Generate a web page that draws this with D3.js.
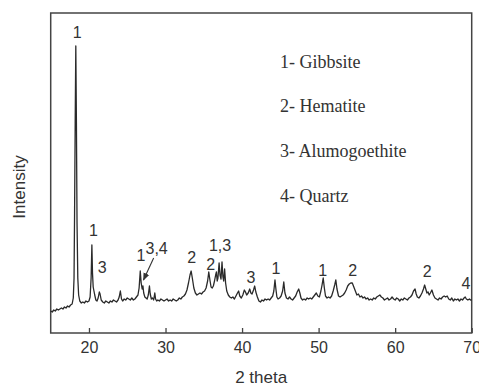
<!DOCTYPE html>
<html>
<head>
<meta charset="utf-8">
<script src="https://cdn.jsdelivr.net/npm/d3@7"></script>
<style>
  body { margin: 0; background: #fff; }
  svg { display: block; }
</style>
</head>
<body>
<div id="chart"></div>
<script>
// XRD pattern: [2 theta, intensity (a.u.)]
var pattern = [
  [15.0,22],[15.2,21],[15.4,23],[15.6,22],[15.8,24],[16.0,23],[16.2,24],[16.4,25],[16.6,24],[16.8,26],
  [17.0,25],[17.2,27],[17.4,26],[17.6,28],[17.8,29],[17.95,35],[18.05,55],[18.12,120],[18.2,210],[18.28,287],
  [18.36,210],[18.44,110],[18.54,55],[18.65,38],[18.8,32],[19.0,30],[19.2,31],[19.4,30],[19.6,32],[19.8,31],
  [20.0,32],[20.15,36],[20.28,55],[20.38,88],[20.46,60],[20.55,46],[20.65,42],[20.75,38],[20.9,33],[21.05,32],
  [21.2,35],[21.35,41],[21.45,39],[21.6,33],[21.8,31],[22.0,30],[22.2,32],[22.4,31],[22.6,30],[22.8,32],
  [23.0,31],[23.2,33],[23.4,32],[23.6,31],[23.8,33],[23.95,36],[24.1,42],[24.25,34],[24.4,32],[24.6,34],
  [24.8,33],[25.0,35],[25.2,34],[25.4,33],[25.6,35],[25.8,33],[26.0,34],[26.2,36],[26.4,38],[26.55,45],
  [26.7,62],[26.82,50],[26.95,44],[27.05,47],[27.15,40],[27.3,36],[27.45,35],[27.6,34],[27.75,38],[27.9,47],
  [28.0,39],[28.15,34],[28.3,35],[28.45,33],[28.6,40],[28.7,34],[28.85,32],[29.0,33],[29.2,32],[29.4,34],
  [29.6,33],[29.8,32],[30.0,33],[30.2,34],[30.4,32],[30.6,33],[30.8,32],[31.0,34],[31.2,33],[31.4,32],
  [31.6,33],[31.8,35],[32.0,34],[32.2,36],[32.4,37],[32.6,39],[32.8,43],[33.0,50],[33.2,58],[33.35,62],
  [33.5,55],[33.7,45],[33.9,40],[34.1,38],[34.3,39],[34.5,40],[34.7,39],[34.9,41],[35.1,42],[35.3,45],
  [35.5,52],[35.65,61],[35.8,53],[35.95,46],[36.1,45],[36.25,47],[36.4,52],[36.55,58],[36.65,61],[36.75,52],
  [36.85,55],[37.0,70],[37.12,58],[37.25,54],[37.38,71],[37.5,56],[37.6,52],[37.72,64],[37.85,50],[38.0,42],
  [38.2,38],[38.4,36],[38.6,35],[38.8,36],[39.0,34],[39.2,37],[39.4,40],[39.55,42],[39.7,37],[39.9,35],
  [40.1,38],[40.3,43],[40.45,41],[40.6,38],[40.8,40],[41.0,44],[41.15,40],[41.3,39],[41.5,43],[41.65,47],
  [41.8,41],[42.0,36],[42.2,32],[42.4,31],[42.6,33],[42.8,32],[43.0,34],[43.2,33],[43.4,34],[43.6,33],
  [43.8,35],[44.0,37],[44.15,42],[44.3,53],[44.42,44],[44.55,36],[44.7,34],[44.9,35],[45.1,37],[45.3,42],
  [45.45,51],[45.6,40],[45.8,35],[46.0,34],[46.2,36],[46.4,34],[46.6,33],[46.8,35],[47.0,37],[47.2,41],
  [47.4,44],[47.55,40],[47.7,35],[47.9,33],[48.1,34],[48.3,33],[48.5,35],[48.7,34],[48.9,35],[49.1,34],
  [49.3,36],[49.5,38],[49.7,40],[49.9,37],[50.1,36],[50.3,42],[50.45,48],[50.6,55],[50.75,45],[50.9,37],
  [51.1,35],[51.3,36],[51.5,35],[51.7,37],[51.9,42],[52.1,48],[52.25,53],[52.4,44],[52.6,37],[52.8,36],
  [53.0,37],[53.2,38],[53.4,40],[53.6,43],[53.8,47],[54.0,49],[54.2,50],[54.4,50],[54.6,46],[54.8,42],
  [55.0,38],[55.2,39],[55.4,36],[55.6,37],[55.8,35],[56.0,36],[56.2,34],[56.4,35],[56.6,33],[56.8,34],
  [57.0,33],[57.2,35],[57.4,34],[57.6,36],[57.8,37],[58.0,38],[58.2,36],[58.4,35],[58.6,33],[58.8,34],
  [59.0,35],[59.2,33],[59.4,34],[59.6,36],[59.8,34],[60.0,33],[60.2,35],[60.4,34],[60.6,32],[60.8,34],
  [61.0,33],[61.2,35],[61.4,34],[61.6,33],[61.8,35],[62.0,36],[62.2,38],[62.4,42],[62.6,44],[62.75,39],
  [62.9,36],[63.1,35],[63.3,37],[63.5,40],[63.7,44],[63.85,48],[64.0,44],[64.15,40],[64.3,41],[64.45,38],
  [64.6,40],[64.8,43],[65.0,38],[65.2,35],[65.4,34],[65.6,33],[65.8,35],[66.0,34],[66.2,36],[66.4,37],
  [66.6,36],[66.8,37],[67.0,34],[67.2,33],[67.4,35],[67.6,32],[67.8,34],[68.0,33],[68.2,34],[68.4,32],
  [68.6,34],[68.8,33],[69.0,35],[69.15,36],[69.3,34],[69.5,33],[69.7,34],[69.85,33],[70.0,33]
];

// peak annotations: [2 theta, intensity of label baseline, text]
var peakLabels = [
  [18.45,295,"1"],[20.57,97,"1"],[21.74,60,"3"],[26.8,72,"1"],[28.84,79,"3,4"],
  [33.42,70,"2"],[35.9,63,"2"],[37.12,82,"1,3"],[41.17,50,"3"],[44.44,59,"1"],
  [50.54,57,"1"],[54.46,57,"2"],[64.2,56,"2"],[69.26,44,"4"]
];

// arrow for the "3,4" label: [from, to] in [2 theta, intensity]
var arrow34 = [[28.45,75],[27.12,53]];

var phases = ["1- Gibbsite", "2- Hematite", "3- Alumogoethite", "4- Quartz"];
var xTicks = [20, 30, 40, 50, 60, 70];

var width = 479, height = 387;
var margin = {top: 13, right: 7.3, bottom: 54, left: 50.7};
var ink = "#333";

var svg = d3.select("#chart").append("svg")
  .attr("width", width)
  .attr("height", height);

var x = d3.scaleLinear()
  .domain([15, 70])
  .range([margin.left, width - margin.right]);

var y = d3.scaleLinear()
  .domain([0, 320])
  .range([height - margin.bottom, margin.top]);

// frame
svg.append("rect")
  .attr("x", margin.left)
  .attr("y", margin.top)
  .attr("width", width - margin.right - margin.left)
  .attr("height", height - margin.bottom - margin.top)
  .attr("fill", "none")
  .attr("stroke", "#444")
  .attr("stroke-width", 1.5);

// x axis, ticks pointing inward
var xAxis = d3.axisBottom(x)
  .tickValues(xTicks)
  .tickSize(-5)
  .tickPadding(9)
  .tickFormat(d3.format("d"));

var gx = svg.append("g")
  .attr("transform", "translate(0," + (height - margin.bottom) + ")")
  .call(xAxis);
gx.select(".domain").remove();
gx.selectAll(".tick line").attr("stroke", "#444").attr("stroke-width", 1.3);
gx.selectAll(".tick text")
  .attr("fill", ink)
  .style("font-family", "'Liberation Sans', Arial, sans-serif")
  .style("font-size", "16px");

// pattern line
var line = d3.line()
  .x(function(d) { return x(d[0]); })
  .y(function(d) { return y(d[1]); });

svg.append("path")
  .datum(pattern)
  .attr("d", line)
  .attr("fill", "none")
  .attr("stroke", "#2a2a2a")
  .attr("stroke-width", 1.3)
  .attr("stroke-linejoin", "round");

// peak labels
svg.selectAll(".peak")
  .data(peakLabels)
  .enter()
  .append("text")
  .attr("class", "peak")
  .attr("x", function(d) { return x(d[0]); })
  .attr("y", function(d) { return y(d[1]); })
  .attr("text-anchor", "middle")
  .attr("fill", ink)
  .style("font-family", "'Liberation Sans', Arial, sans-serif")
  .style("font-size", "16px")
  .text(function(d) { return d[2]; });

// arrow
svg.append("defs").append("marker")
  .attr("id", "head")
  .attr("viewBox", "0 0 10 10")
  .attr("refX", 9)
  .attr("refY", 5)
  .attr("markerWidth", 7)
  .attr("markerHeight", 7)
  .attr("orient", "auto")
  .append("path")
  .attr("d", "M0,1 L10,5 L0,9 z")
  .attr("fill", ink);

svg.append("line")
  .attr("x1", x(arrow34[0][0]))
  .attr("y1", y(arrow34[0][1]))
  .attr("x2", x(arrow34[1][0]))
  .attr("y2", y(arrow34[1][1]))
  .attr("stroke", ink)
  .attr("stroke-width", 1.1)
  .attr("marker-end", "url(#head)");

// phase legend
svg.selectAll(".phase")
  .data(phases)
  .enter()
  .append("text")
  .attr("class", "phase")
  .attr("x", 280)
  .attr("y", function(d, i) { return 67.7 + i * 44.6; })
  .attr("fill", ink)
  .style("font-family", "'Liberation Serif', 'Times New Roman', serif")
  .style("font-size", "18px")
  .text(function(d) { return d; });

// axis titles
svg.append("text")
  .attr("x", (margin.left + width - margin.right) / 2)
  .attr("y", 383)
  .attr("text-anchor", "middle")
  .attr("fill", ink)
  .style("font-family", "'Liberation Sans', Arial, sans-serif")
  .style("font-size", "17px")
  .text("2 theta");

svg.append("text")
  .attr("transform", "translate(25,187) rotate(-90)")
  .attr("text-anchor", "middle")
  .attr("fill", ink)
  .style("font-family", "'Liberation Sans', Arial, sans-serif")
  .style("font-size", "17px")
  .text("Intensity");
</script>
</body>
</html>
